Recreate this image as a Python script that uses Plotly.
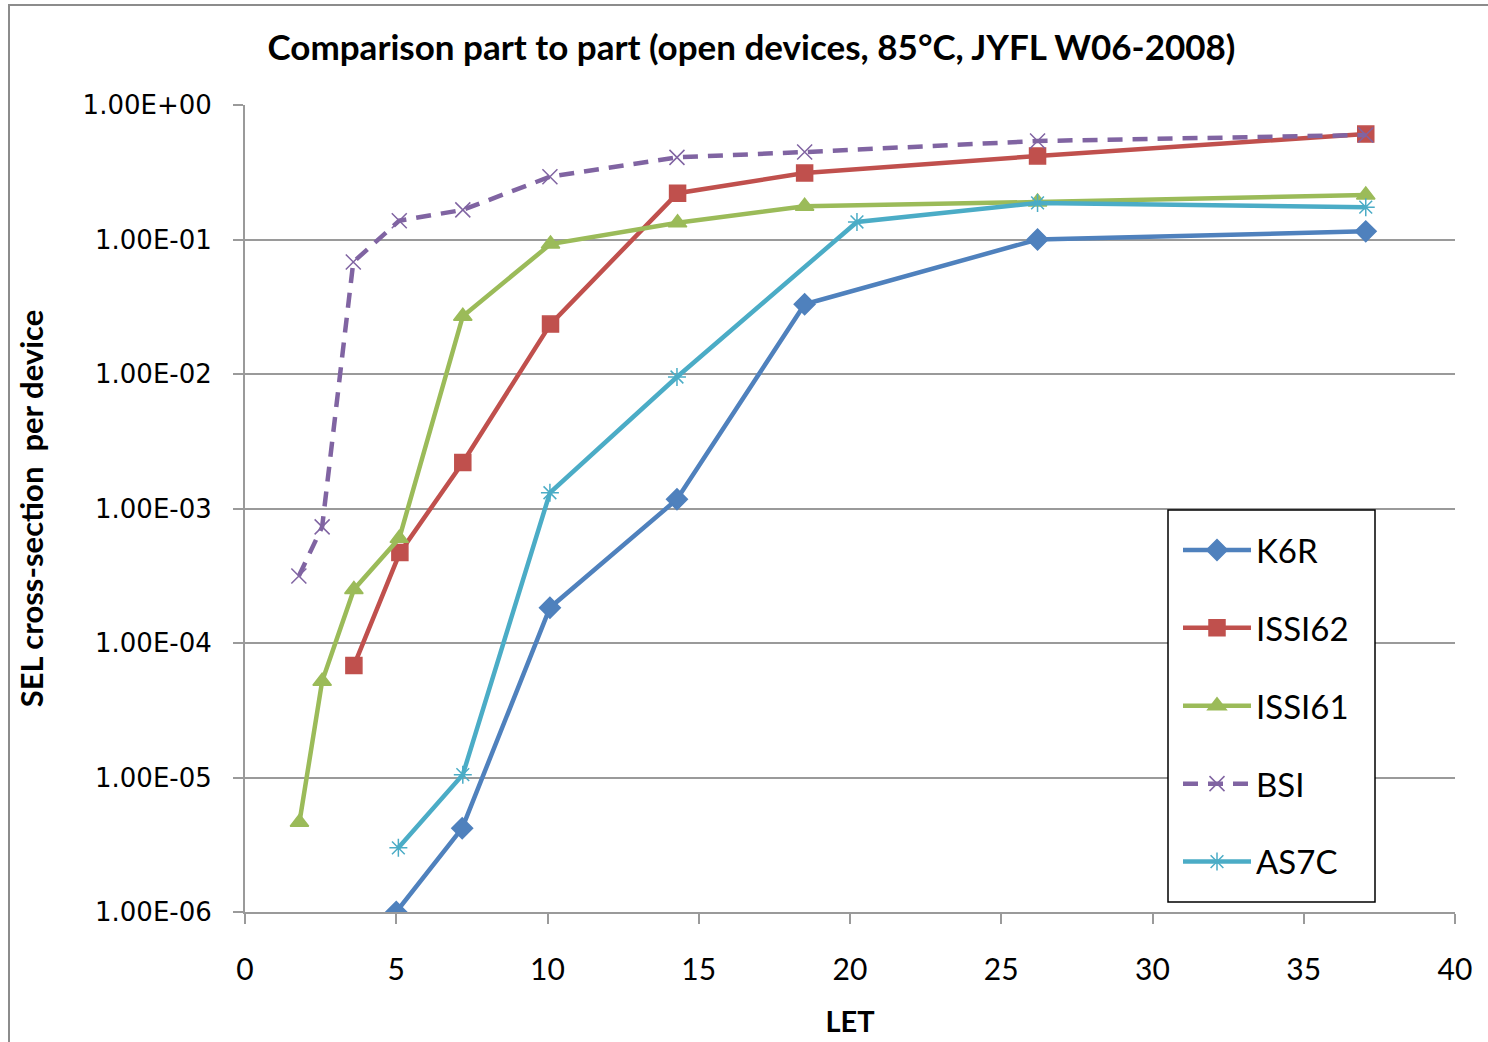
import plotly.graph_objects as go

# ---- data ----
k6r_let = [5.0, 7.18, 10.08, 14.28, 18.5, 26.2, 37.05]
k6r_sel = [1.0e-6, 4.2e-6, 1.83e-4, 1.17e-3, 0.033, 0.100, 0.115]

issi62_let = [3.6, 5.12, 7.2, 10.1, 14.3, 18.5, 26.2, 37.05]
issi62_sel = [6.8e-5, 4.7e-4, 2.2e-3, 0.0235, 0.221, 0.312, 0.418, 0.608]

issi61_let = [1.8, 2.55, 3.6, 5.1, 7.2, 10.1, 14.3, 18.5, 26.2, 37.05]
issi61_sel = [4.65e-6, 5.2e-5, 2.5e-4, 6.0e-4, 0.0269, 0.0925, 0.133, 0.177, 0.190, 0.214]

bsi_let = [1.78, 2.55, 3.58, 5.1, 7.2, 10.08, 14.28, 18.5, 26.2, 37.05]
bsi_sel = [3.15e-4, 7.3e-4, 0.068, 0.138, 0.166, 0.293, 0.408, 0.447, 0.54, 0.598]

as7c_let = [5.07, 7.2, 10.08, 14.28, 20.23, 26.2, 37.05]
as7c_sel = [3.0e-6, 1.05e-5, 1.31e-3, 9.5e-3, 0.135, 0.187, 0.174]

y_tickvals = [1e0, 1e-1, 1e-2, 1e-3, 1e-4, 1e-5, 1e-6]
y_ticktext = ["1.00E+00", "1.00E-01", "1.00E-02", "1.00E-03", "1.00E-04", "1.00E-05", "1.00E-06"]
x_tickvals = [0, 5, 10, 15, 20, 25, 30, 35, 40]

series = [
    ("K6R", k6r_let, k6r_sel, "#4F81BD", "diamond", 16, "solid"),
    ("ISSI62", issi62_let, issi62_sel, "#C0504D", "square", 16, "solid"),
    ("ISSI61", issi61_let, issi61_sel, "#9BBB59", "triangle-up", 16, "solid"),
    ("BSI", bsi_let, bsi_sel, "#8064A2", "x-thin-open", 15, "15px,10px"),
    ("AS7C", as7c_let, as7c_sel, "#4BACC6", "asterisk-open", 15, "solid"),
]

fig = go.Figure()
for i, (name, xs, ys, color, sym, size, dash) in enumerate(series):
    fig.add_trace(go.Scatter(
        x=xs, y=ys, name=name, mode="lines+markers",
        line=dict(color=color, width=4.5, dash=dash),
        marker=dict(symbol=sym, size=size, color=color,
                    line=dict(color=color, width=1.5)),
        legendgroup=name,
    ))

# plot-area pixel geometry
L, R, T, B = 245, 1455, 105, 912
W, H = 1488, 1042
PW, PH = R - L, B - T

def px(x):
    return (x - L) / PW

def py(y):
    return (B - y) / PH

grid_col = "#9a9a9a"
fig.update_layout(
    width=W, height=H,
    paper_bgcolor="white", plot_bgcolor="white",
    margin=dict(l=L, r=W - R, t=T, b=H - B, autoexpand=False),
    title=dict(text="<b>Comparison part to part (open devices, 85°C, JYFL W06-2008)</b>",
               x=(258 + 1245) / 2 / W, xanchor="center", y=1 - 48 / H, yanchor="middle",
               font=dict(family="Lato", size=35, color="black")),
    xaxis=dict(range=[0, 40], tickvals=x_tickvals, showgrid=False, automargin=False,
               showline=True, linecolor=grid_col, linewidth=2,
               ticks="outside", ticklen=10, tickcolor=grid_col, tickwidth=2,
               ticklabelstandoff=20,
               tickfont=dict(family="Lato", size=30, color="black"),
               title=dict(text="<b>LET</b>", font=dict(family="Lato", size=29, color="black"), standoff=27),
               zeroline=False),
    yaxis=dict(type="log", range=[-6, 0], tickvals=y_tickvals, ticktext=y_ticktext,
               showgrid=True, gridcolor=grid_col, gridwidth=2, automargin=False,
               showline=True, linecolor=grid_col, linewidth=2,
               ticks="outside", ticklen=10, tickcolor=grid_col, tickwidth=2,
               ticklabelstandoff=16,
               tickfont=dict(family="DejaVu Sans", size=26, color="black"),
               title=dict(text="<b>SEL cross-section  per device</b>",
                          font=dict(family="Lato", size=31, color="black"), standoff=30),
               zeroline=False),
    legend=dict(x=px(1178), xanchor="left", y=py(522), yanchor="top",
                bgcolor="rgba(0,0,0,0)", borderwidth=0,
                font=dict(family="Lato", size=33, color="black"),
                tracegroupgap=32, itemwidth=68),
    showlegend=True,
)

# legend frame
fig.add_shape(type="rect", xref="paper", yref="paper",
              x0=px(1168), x1=px(1375), y0=py(902), y1=py(510),
              line=dict(color="black", width=1.5), fillcolor="white", layer="above")

# outer chart border (left & top visible)
fig.add_shape(type="rect", xref="paper", yref="paper",
              x0=px(9), x1=1.2, y0=-0.5, y1=py(5),
              line=dict(color="#8c8c8c", width=2), fillcolor="rgba(0,0,0,0)", layer="below")

fig.write_html("out.html")
